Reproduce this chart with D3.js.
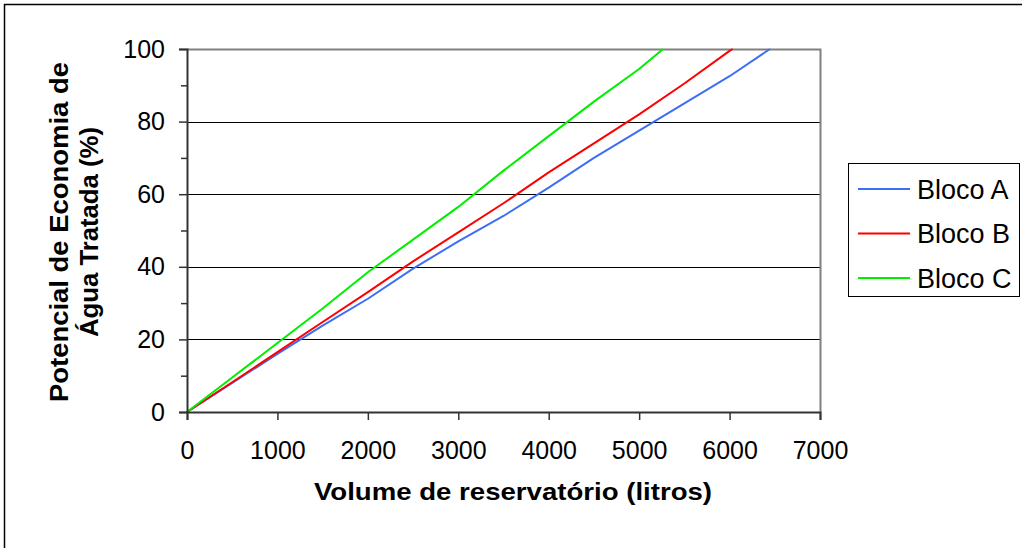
<!DOCTYPE html>
<html>
<head>
<meta charset="utf-8">
<script src="https://cdn.jsdelivr.net/npm/d3@7"></script>
<style>
  html, body { margin: 0; padding: 0; background: #fff; }
  svg { display: block; font-family: "Liberation Sans", Arial, sans-serif; }
</style>
</head>
<body>
<svg id="chart" width="1022" height="548"></svg>
<script>
// Reservoir volume (litres) vs. potential treated-water savings (%)
const volumes  = [0, 500, 1000, 1500, 2000, 2500, 3000, 3500, 4000, 4500, 5000, 5500, 6000];
const blocoA   = [0, 8, 16, 23.8, 31.2, 39.5, 47, 54, 61.8, 70, 77.5, 85, 92.5];
const blocoAEnd = [6447, 100];
const blocoB   = [0, 8.2, 16.5, 24.8, 33, 41.5, 49.5, 57.5, 66, 74, 82, 90.5, 99.5];
const blocoBEnd = [6035, 100];
const blocoC   = [0, 9.5, 19, 28.5, 38.5, 47.5, 56.5, 66.5, 76, 85.5, 94.5];
const blocoCEnd = [5265, 100];
const seriesNames = ["Bloco A", "Bloco B", "Bloco C"];
const xTicks = [0, 1000, 2000, 3000, 4000, 5000, 6000, 7000];
const yTicks = [0, 20, 40, 60, 80, 100];
const yMinorTicks = [10, 30, 50, 70, 90];

function buildSeries(vals, end) {
  const pts = vals.map((v, i) => [volumes[i], v]);
  pts.push(end);
  return pts;
}
const series = [
  { name: seriesNames[0], color: "#3d6ff5", pts: buildSeries(blocoA, blocoAEnd) },
  { name: seriesNames[1], color: "#ff0000", pts: buildSeries(blocoB, blocoBEnd) },
  { name: seriesNames[2], color: "#00ee00", pts: buildSeries(blocoC, blocoCEnd) }
];

const svg = d3.select("#chart");

// outer chart frame
svg.append("rect")
  .attr("x", 4.5).attr("y", 4.5)
  .attr("width", 1040).attr("height", 560)
  .attr("fill", "#fff").attr("stroke", "#000").attr("stroke-width", 1.5);

const plot = { left: 187, right: 820, top: 49, bottom: 412 };
const x = d3.scaleLinear().domain([0, 7000]).range([plot.left, plot.right]);
const y = d3.scaleLinear().domain([0, 100]).range([plot.bottom, plot.top]);

// horizontal gridlines
svg.append("g")
  .selectAll("line")
  .data(yTicks.filter(t => t > 0 && t < 100))
  .join("line")
  .attr("x1", plot.left).attr("x2", plot.right)
  .attr("y1", d => Math.round(y(d)) + 0.5).attr("y2", d => Math.round(y(d)) + 0.5)
  .attr("stroke", "#000").attr("stroke-width", 1);

// plot area border (top and right)
svg.append("path")
  .attr("d", `M${plot.left},${plot.top + 0.5}H${plot.right + 0.5}V${plot.bottom}`)
  .attr("fill", "none").attr("stroke", "#808080").attr("stroke-width", 2);

// series lines
const line = d3.line().x(d => x(d[0])).y(d => y(d[1]));
svg.append("g")
  .selectAll("path")
  .data(series)
  .join("path")
  .attr("d", d => line(d.pts))
  .attr("fill", "none")
  .attr("stroke", d => d.color)
  .attr("stroke-width", 2)
  .attr("stroke-linejoin", "round");

// y axis
const yAxis = svg.append("g")
  .attr("transform", `translate(${plot.left},0)`)
  .call(d3.axisLeft(y).tickValues(yTicks).tickSize(8).tickPadding(14).tickFormat(d3.format("d")));
yAxis.select(".domain").attr("stroke", "#333").attr("stroke-width", 2);
yAxis.selectAll(".tick line").attr("stroke", "#333").attr("stroke-width", 1.5);
yAxis.selectAll(".tick text").attr("font-size", 25).attr("fill", "#000")
  .attr("font-family", "Liberation Sans, Arial, sans-serif");
svg.append("g")
  .attr("transform", `translate(${plot.left},0)`)
  .call(d3.axisLeft(y).tickValues(yMinorTicks).tickSize(6).tickFormat(""))
  .call(g => g.select(".domain").remove())
  .call(g => g.selectAll(".tick line").attr("stroke", "#333").attr("stroke-width", 1.5));

// x axis
const xAxis = svg.append("g")
  .attr("transform", `translate(0,${plot.bottom})`)
  .call(d3.axisBottom(x).tickValues(xTicks).tickSize(8).tickPadding(21).tickFormat(d3.format("d")));
xAxis.select(".domain").attr("stroke", "#333").attr("stroke-width", 2);
xAxis.selectAll(".tick line").attr("stroke", "#333").attr("stroke-width", 1.5);
xAxis.selectAll(".tick text").attr("font-size", 25).attr("fill", "#000")
  .attr("font-family", "Liberation Sans, Arial, sans-serif");

// axis titles
svg.append("text")
  .attr("x", 513).attr("y", 500)
  .attr("text-anchor", "middle")
  .attr("font-size", 24).attr("font-weight", "bold")
  .attr("textLength", 398).attr("lengthAdjust", "spacingAndGlyphs")
  .text("Volume de reservatório (litros)");

const yTitle = svg.append("text")
  .attr("transform", "translate(0,232) rotate(-90)")
  .attr("text-anchor", "middle")
  .attr("font-size", 26).attr("font-weight", "bold");
yTitle.append("tspan").attr("x", 0).attr("y", 68).attr("textLength", 340)
  .attr("lengthAdjust", "spacingAndGlyphs").text("Potencial de Economia de");
yTitle.append("tspan").attr("x", 0).attr("y", 98).attr("textLength", 210)
  .attr("lengthAdjust", "spacingAndGlyphs").text("Água Tratada (%)");

// legend
const legend = svg.append("g");
legend.append("rect")
  .attr("x", 848.5).attr("y", 163.5).attr("width", 171).attr("height", 133)
  .attr("fill", "#fff").attr("stroke", "#000").attr("stroke-width", 1);
const items = legend.selectAll("g.item")
  .data(series)
  .join("g")
  .attr("class", "item")
  .attr("transform", (d, i) => `translate(0,${189 + i * 44.5})`);
items.append("line")
  .attr("x1", 858).attr("x2", 910).attr("y1", 0).attr("y2", 0)
  .attr("stroke", d => d.color).attr("stroke-width", 2);
items.append("text")
  .attr("x", 917).attr("y", 0).attr("dy", "0.36em")
  .attr("font-size", 27)
  .text(d => d.name);
</script>
</body>
</html>
